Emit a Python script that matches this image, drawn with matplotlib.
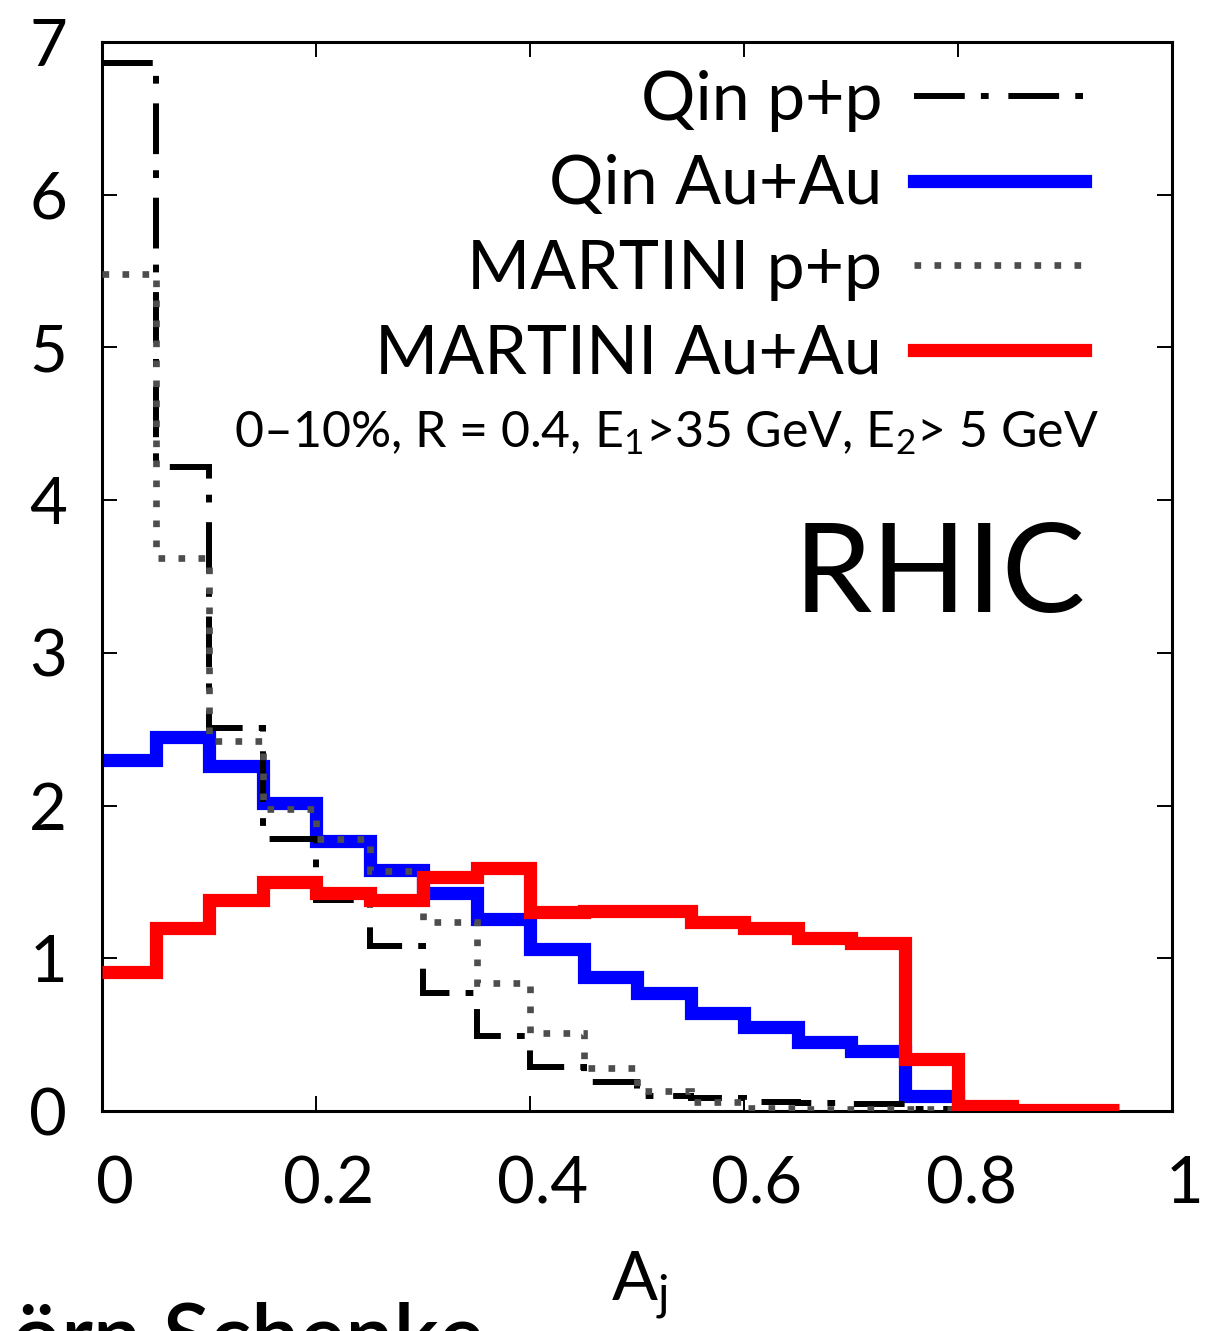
import matplotlib
matplotlib.use("Agg")
import matplotlib.pyplot as plt
import matplotlib.transforms as mtransforms
import numpy as np

# ---- data ----
bin_width = 0.05
qin_pp = [6.86, 4.22, 2.51, 1.78, 1.38, 1.08, 0.77, 0.49, 0.29, 0.19,
          0.10, 0.085, 0.06, 0.05, 0.045, 0.01]
qin_aa = [2.30, 2.45, 2.26, 2.02, 1.77, 1.58, 1.43, 1.26, 1.06, 0.88,
          0.77, 0.64, 0.55, 0.45, 0.39, 0.10, 0.005]
martini_pp = [5.48, 3.62, 2.42, 1.98, 1.78, 1.57, 1.24, 0.84, 0.51, 0.28,
              0.13, 0.06, 0.02, 0.01, 0.01, 0.01]
martini_aa = [0.91, 1.20, 1.38, 1.50, 1.43, 1.38, 1.53, 1.59, 1.30, 1.31,
              1.31, 1.24, 1.20, 1.13, 1.10, 0.34, 0.03, 0.005, 0.005]

labels = ["Qin p+p", "Qin Au+Au", "MARTINI p+p", "MARTINI Au+Au"]
x_ticks = [0, 0.2, 0.4, 0.6, 0.8, 1]
x_ticklabels = ["0", "0.2", "0.4", "0.6", "0.8", "1"]
y_ticks = [0, 1, 2, 3, 4, 5, 6, 7]
annotation = "0\u201310%, R = 0.4, E$_1$>35 GeV, E$_2$> 5 GeV"

FONT = "Lato"
plt.rcParams["font.family"] = [FONT, "DejaVu Sans"]
plt.rcParams["mathtext.fontset"] = "custom"
plt.rcParams["mathtext.rm"] = FONT
plt.rcParams["mathtext.default"] = "regular"

def edges_for(vals):
    return np.arange(len(vals) + 1) * bin_width

fig = plt.figure(figsize=(12.28, 13.31), dpi=100)
ax = fig.add_axes([102/1228, 1 - 1111/1331, (1172-102)/1228, (1111-42)/1331])

ax.stairs(qin_aa, edges_for(qin_aa), color="#0000ff", lw=9.5, zorder=2,
          label=labels[1], joinstyle="miter", baseline=None)
ax.stairs(qin_pp, edges_for(qin_pp), color="black", lw=4.3, zorder=3,
          linestyle=(0, (8.5, 2.7, 1.3, 3.3)), label=labels[0], baseline=None)
ax.stairs(martini_pp, edges_for(martini_pp), color="#4d4d4d", lw=4.8, zorder=4,
          linestyle=(0, (1.0, 2.0)), label=labels[2], baseline=None)
ax.stairs(martini_aa, edges_for(martini_aa), color="#ff0000", lw=9.5, zorder=5,
          label=labels[3], joinstyle="miter", baseline=None)

ax.set_xlim(0, 1)
ax.set_ylim(0, 7)
ax.set_xticks(x_ticks)
ax.set_xticklabels(x_ticklabels)
ax.set_yticks(y_ticks)
ax.tick_params(direction="in", length=11, width=1.4, labelsize=47,
               top=True, right=True, color="black")
ax.tick_params(axis="x", pad=32)
ax.tick_params(axis="y", pad=25)
for s in ax.spines.values():
    s.set_linewidth(2.2)

shift = mtransforms.ScaledTranslation(13 / 100, 0, fig.dpi_scale_trans)
for lab in ax.get_xticklabels():
    lab.set_transform(lab.get_transform() + shift)

ax.set_xlabel("A$_\\mathrm{j}$", fontsize=49)
ax.xaxis.set_label_coords((640 - 102) / 1070, (1111 - 1300) / 1069)
ax.xaxis.label.set_va("baseline")

h, l = ax.get_legend_handles_labels()
order = [1, 0, 2, 3]
h = [h[i] for i in order]
l = [l[i] for i in order]
leg = ax.legend(h, l, loc="upper right", markerfirst=False, frameon=False,
                fontsize=49, handlelength=2.52, handletextpad=0.46,
                labelspacing=0.33, borderpad=0, borderaxespad=0,
                bbox_to_anchor=((1085 - 102) / 1070, (1111 - 70) / 1069))

ax.text((1099 - 102) / 1070, (1111 - 447) / 1069, annotation,
        transform=ax.transAxes, ha="right", va="baseline", fontsize=36)
ax.text((1086 - 102) / 1070, (1111 - 612) / 1069, "RHIC",
        transform=ax.transAxes, ha="right", va="baseline", fontsize=90)

fig.text(12 / 1228, (1331 - 1365) / 1331, "\u00f6rn Schenke", fontsize=62,
         ha="left", va="baseline", fontweight="semibold")

fig.savefig("out.png", dpi=100)
